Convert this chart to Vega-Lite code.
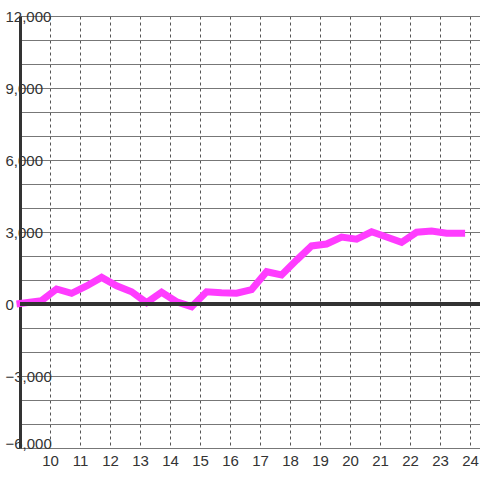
{
  "$schema": "https://vega.github.io/schema/vega-lite/v6.json",
  "width": 460,
  "height": 432,
  "autosize": "none",
  "padding": {"left": 20, "top": 16, "right": 0, "bottom": 32},
  "background": "white",
  "config": {
    "view": {"stroke": null},
    "font": "Liberation Sans"
  },
  "data": {
    "values": [
      {"x": 9.0, "y": 20},
      {"x": 9.72, "y": 140},
      {"x": 10.22, "y": 625},
      {"x": 10.72, "y": 445},
      {"x": 11.22, "y": 750},
      {"x": 11.72, "y": 1110},
      {"x": 12.22, "y": 760},
      {"x": 12.72, "y": 510},
      {"x": 13.22, "y": 55},
      {"x": 13.72, "y": 490},
      {"x": 14.22, "y": 95},
      {"x": 14.72, "y": -110},
      {"x": 15.22, "y": 510},
      {"x": 15.72, "y": 470},
      {"x": 16.22, "y": 450},
      {"x": 16.72, "y": 600},
      {"x": 17.22, "y": 1345},
      {"x": 17.72, "y": 1210},
      {"x": 18.22, "y": 1830},
      {"x": 18.72, "y": 2420},
      {"x": 19.22, "y": 2500},
      {"x": 19.72, "y": 2790},
      {"x": 20.22, "y": 2700},
      {"x": 20.72, "y": 3010},
      {"x": 21.22, "y": 2790},
      {"x": 21.72, "y": 2570},
      {"x": 22.22, "y": 2990},
      {"x": 22.72, "y": 3040},
      {"x": 23.22, "y": 2950},
      {"x": 23.72, "y": 2950}
    ]
  },
  "encoding": {
    "x": {
      "field": "x", "type": "quantitative",
      "scale": {"domain": [9, 24.3333], "nice": false, "zero": false},
      "axis": {
        "title": null,
        "values": [10, 11, 12, 13, 14, 15, 16, 17, 18, 19, 20, 21, 22, 23, 24],
        "grid": true, "gridColor": "#555", "gridDash": [3, 3], "gridWidth": 1,
        "domain": false, "ticks": false, "tickSize": 0,
        "labelOverlap": false,
        "labelPadding": 5, "labelFontSize": 15, "labelColor": "#333",
        "labelFont": "Liberation Sans"
      }
    },
    "y": {
      "field": "y", "type": "quantitative",
      "scale": {"domain": [-6000, 12000], "nice": false, "zero": false},
      "axis": {
        "title": null,
        "values": [-6000, -5000, -4000, -3000, -2000, -1000, 0, 1000, 2000, 3000, 4000, 5000, 6000, 7000, 8000, 9000, 10000, 11000, 12000],
        "labelExpr": "datum.value % 3000 === 0 ? datum.label : ''",
        "grid": true, "gridColor": "#777", "gridWidth": 1,
        "domain": true, "domainColor": "#333", "domainWidth": 3,
        "ticks": false, "tickSize": 0,
        "labelOverlap": false,
        "labelAlign": "left", "labelPadding": 15,
        "labelFontSize": 15, "labelColor": "#333", "labelFont": "Liberation Sans",
        "labelBaseline": {"condition": {"test": "datum.value === -6000", "value": "alphabetic"}, "value": "middle"}
      }
    }
  },
  "layer": [
    {
      "mark": {"type": "line", "color": "#ff3cff", "strokeWidth": 7, "strokeCap": "square", "strokeJoin": "miter"}
    },
    {
      "mark": {"type": "rule", "color": "#333", "strokeWidth": 3},
      "encoding": {
        "x": null,
        "y": {"datum": 0, "type": "quantitative"}
      }
    }
  ]
}
